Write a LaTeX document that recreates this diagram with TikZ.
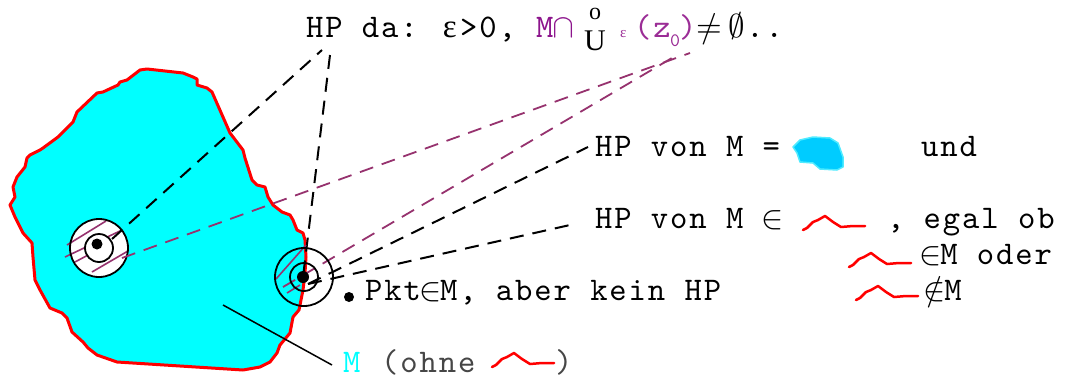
\documentclass[tikz,border=0pt]{standalone}
\usepackage{fontspec}
\newfontfamily\cour{lmmono10-regular.otf}[LetterSpace=5.8]
\newfontfamily\lmm{latinmodern-math.otf}
\newfontfamily\serf{Liberation Serif}
\newcommand\tw{\cour\fontsize{33}{40}\selectfont}
\newcommand\cell[1]{\makebox[19.2pt]{\lmm #1}}

\definecolor{cyanM}{RGB}{0,255,255}
\definecolor{blobblue}{RGB}{0,204,255}
\definecolor{blobedge}{RGB}{80,235,255}
\definecolor{edgered}{RGB}{255,0,0}
\definecolor{purp}{RGB}{140,20,140}
\definecolor{purpl}{RGB}{155,45,150}
\definecolor{mauve}{RGB}{150,50,110}
\definecolor{ohnegray}{RGB}{70,70,70}

\tikzset{
  txt/.style={anchor=base west, inner sep=0pt, font=\tw},
  blkdash/.style={draw=black, line width=2pt, dash pattern=on 14pt off 9pt},
  mvdash/.style={draw=mauve, line width=1.8pt, dash pattern=on 14pt off 9pt},
  hatch/.style={draw=mauve, line width=1.6pt},
  ring/.style={draw=black, line width=1.8pt},
  squig/.pic={\draw[edgered, line width=2.5pt, line join=round, line cap=round]
    (0,0) -- (4,-2) -- (10,-8) -- (15,-10) -- (22,-14) -- (30,-8) -- (38,-3)
    -- (50,-4) -- (62,-4);}
}

\begin{document}
\begin{tikzpicture}[x=1pt, y=-1pt]
\useasboundingbox (0,0) rectangle (1065,383);

% the set M
\filldraw[fill=cyanM, draw=edgered, line width=3pt, line join=round]
  (73,122) -- (77,112) -- (97,93) -- (103,92) -- (118,85) -- (120,82)
  -- (127,80) -- (140,70) -- (147,69) -- (183,73) -- (193,77) -- (197,79)
  -- (197,85) -- (207,88) -- (212,92) -- (230,133) -- (243,150) -- (245,158)
  -- (252,180) -- (257,185) -- (265,187) -- (268,197) -- (273,205)
  -- (282,212) -- (290,215) -- (293,220) -- (297,230) -- (303,233)
  -- (305,240) -- (306,257) -- (305,273) -- (303,290) -- (299,310)
  -- (293,317) -- (290,333) -- (280,345) -- (277,353) -- (270,362)
  -- (260,367) -- (243,370) -- (117,362) -- (97,355) -- (88,348)
  -- (83,342) -- (72,332) -- (67,318) -- (62,313) -- (50,308) -- (40,290)
  -- (35,280) -- (33,257) -- (32,243) -- (23,233) -- (15,217) -- (10,205)
  -- (15,197) -- (13,187) -- (17,177) -- (25,167) -- (27,158) -- (30,155)
  -- (40,150) -- (43,148) -- (58,137) -- cycle;

% named points
\coordinate (lc) at (99,248);
\coordinate (ldot) at (97,244);
\coordinate (lstart) at (112,239);
\coordinate (lpstart) at (122,258);
\coordinate (rc) at (304,277);
\coordinate (rdot) at (303,277);
\coordinate (rfoot) at (308,284);
\coordinate (rpstart) at (283,287);
\coordinate (apexA) at (322,50);
\coordinate (apexB) at (330,55);
\coordinate (zA) at (690,53);
\coordinate (zB) at (677,55);
\coordinate (tipEq) at (588,147);
\coordinate (tipIn) at (570,225);
\coordinate (mfoot) at (223,305);
\coordinate (mhead) at (332,365);

% interior point with its neighbourhoods
\fill[white] (lc) circle (29);
\draw[hatch] (67,245) -- (106,221);
\draw[hatch] (65,257) -- (120,231);
\draw[hatch] (75,262) -- (90,254);
\draw[hatch] (92,272) -- (128,251);
\filldraw[fill=white, ring] (lc) circle (14);
\draw[ring] (lc) circle (29);
\fill (ldot) circle (5.5);

% connectors
\draw[blkdash] (lstart) -- (apexA);
\draw[mvdash] (lpstart) -- (zA);
\draw[mvdash] (rpstart) -- (zB);
\draw[blkdash] (apexB) -- (rdot);
\draw[blkdash] (rfoot) -- (tipEq);
\draw[blkdash] (rfoot) -- (tipIn);

% boundary point with its neighbourhoods
\draw[hatch] (276,279) -- (306,245);
\draw[hatch] (287,293) -- (300,285);
\draw[ring] (rc) circle (29);
\draw[ring] (rc) circle (14);
\fill (rdot) circle (6);

% top line
\node[txt] (top1) at (306,37) {HP da:};
\node[txt] (topeps) at (440,37) {\makebox[19.2pt]{\serf ε}};
\node[txt] (top1b) at (460,37) {>0,};
\node[txt, text=purp] (top2) at (536,37) {M\cell{∩}};
\node[anchor=base, inner sep=0pt, font=\serf\fontsize{30}{32}\selectfont] (cup) at (595,50) {U};
\node[anchor=base, inner sep=0pt, font=\serf\fontsize{24}{26}\selectfont] (circ) at (595,19) {o};
\node[anchor=base west, inner sep=0pt, text=purpl, font=\serf\fontsize{15}{17}\selectfont] (eps) at (620,37) {ε};
\node[txt, text=purpl] (zl) at (634,37) {(z};
\node[anchor=base west, inner sep=0pt, text=purpl, font=\cour\fontsize{19}{22}\selectfont] (zsub) at (670,46) {0};
\node[txt, text=purpl] (zr) at (679,37) {)};
\node[txt] (neq) at (700,37) {\cell{≠}};
\node[txt] (empt) at (727,37) {\cell{∅}..};

% right hand labels
\node[txt] (hp1) at (595,156) {HP von M =};
\filldraw[fill=blobblue, draw=blobedge, line width=1.5pt, line join=round]
  (793,147) -- (800,140) -- (813,137) -- (830,138) -- (838,143) -- (843,157)
  -- (843,167) -- (837,170) -- (820,169) -- (813,163) -- (800,162)
  -- (797,153) -- cycle;
\node[txt] (und) at (921,156) {und};
\node[txt] (hp2) at (595,228) {HP von M \cell{∈}};
\pic at (803,230) {squig};
\node[txt] (egal) at (887,228) {, egal ob};
\pic at (849,267) {squig};
\node[txt] (inM) at (921,264) {\cell{∈}M oder};
\pic at (856,300) {squig};
\node[txt] (notinM) at (925,300) {\cell{∉}M};

% isolated point
\fill (349,297) circle (5);
\node[txt] (pkt) at (365,300) {Pkt\cell{∈}M, aber kein HP};

% label of M
\draw[black, line width=1.5pt] (mfoot) -- (mhead);
\node[txt, text=cyanM] (mlab) at (343,372) {M};
\node[txt, text=ohnegray] (ohne) at (381,372) {(ohne};
\pic at (492,367) {squig};
\node[txt, text=ohnegray] (ohneR) at (555,372) {)};
\end{tikzpicture}
\end{document}
